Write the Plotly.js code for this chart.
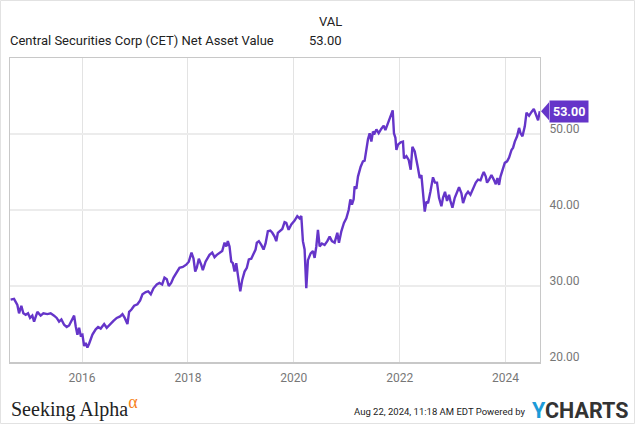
<!DOCTYPE html>
<html>
<head>
<meta charset="utf-8">
<script src="https://cdn.plot.ly/plotly-3.0.1.min.js"></script>
<style>
html,body{margin:0;padding:0;background:#fff;}
#chart{width:635px;height:424px;}
</style>
</head>
<body>
<div id="chart"></div>
<script>
// Time as decimal years, NAV values in USD
var years = [
2014.652,2014.716,2014.779,2014.811,2014.854,2014.892,2014.936,2014.981,2015.019,2015.062,
2015.095,2015.157,2015.219,2015.270,2015.346,2015.408,2015.473,2015.522,2015.567,2015.611,
2015.662,2015.711,2015.756,2015.800,2015.851,2015.881,2015.913,2015.945,2015.975,2016.008,
2016.040,2016.070,2016.102,2016.134,2016.197,2016.259,2016.304,2016.353,2016.418,2016.467,
2016.531,2016.594,2016.656,2016.720,2016.764,2016.807,2016.858,2016.890,2016.934,2016.985,
2017.047,2017.098,2017.142,2017.204,2017.250,2017.299,2017.350,2017.412,2017.463,2017.514,
2017.558,2017.601,2017.639,2017.684,2017.728,2017.779,2017.841,2017.904,2017.968,2018.017,
2018.068,2018.106,2018.138,2018.168,2018.206,2018.251,2018.282,2018.333,2018.376,2018.408,
2018.459,2018.503,2018.546,2018.597,2018.648,2018.692,2018.724,2018.754,2018.786,2018.819,
2018.849,2018.881,2018.913,2018.943,2018.989,2019.026,2019.070,2019.113,2019.151,2019.197,
2019.240,2019.278,2019.302,2019.340,2019.386,2019.429,2019.467,2019.510,2019.556,2019.594,
2019.637,2019.669,2019.699,2019.745,2019.783,2019.826,2019.858,2019.902,2019.953,2020.015,
2020.066,2020.110,2020.142,2020.172,2020.204,2020.236,2020.267,2020.318,2020.361,2020.393,
2020.425,2020.456,2020.488,2020.531,2020.582,2020.633,2020.677,2020.720,2020.771,2020.822,
2020.853,2020.898,2020.947,2020.992,2021.036,2021.068,2021.098,2021.130,2021.149,2021.181,
2021.212,2021.263,2021.306,2021.338,2021.371,2021.401,2021.433,2021.465,2021.495,2021.527,
2021.560,2021.603,2021.654,2021.698,2021.730,2021.779,2021.830,2021.868,2021.892,2021.919,
2021.938,2021.968,2022.019,2022.062,2022.081,2022.127,2022.170,2022.208,2022.240,2022.284,
2022.346,2022.378,2022.410,2022.440,2022.473,2022.505,2022.535,2022.580,2022.629,2022.667,
2022.705,2022.743,2022.788,2022.818,2022.856,2022.894,2022.932,2022.958,2022.996,2023.040,
2023.083,2023.121,2023.166,2023.197,2023.248,2023.291,2023.336,2023.386,2023.437,2023.480,
2023.526,2023.563,2023.588,2023.626,2023.650,2023.688,2023.733,2023.777,2023.815,2023.847,
2023.877,2023.904,2023.941,2023.985,2024.028,2024.066,2024.112,2024.142,2024.174,2024.217,
2024.255,2024.282,2024.319,2024.363,2024.395,2024.444,2024.490,2024.533,2024.571,2024.614,
2024.646
];
var nav = [
28.2,28.3,27.5,26.4,27.4,26.4,26.2,26.4,25.8,26.1,
25.3,26.6,26.1,26.4,26.3,26.4,26.1,25.8,25.3,25.6,
24.9,24.6,24.8,25.4,26.1,24.7,23.6,24.5,23.5,23.6,
22.1,22.5,21.9,22.4,23.6,24.3,24.6,24.4,25.0,24.5,
25.0,25.4,25.8,26.0,26.3,25.8,25.0,26.6,26.9,27.4,
27.6,28.1,28.9,29.2,29.3,28.9,29.7,30.2,30.4,30.2,
31.1,30.9,30.0,30.4,31.1,31.7,32.4,32.5,32.8,33.2,
34.4,33.6,31.9,32.4,33.6,32.8,32.1,33.2,33.7,34.1,
34.4,33.8,34.1,34.3,34.6,35.7,35.2,35.9,35.2,33.2,
33.0,31.9,33.0,31.5,29.3,30.8,31.9,32.4,33.5,33.6,
34.3,34.8,35.7,35.9,35.4,34.8,35.6,37.2,37.3,37.0,
36.5,35.9,37.0,37.3,37.5,38.4,38.3,37.4,38.1,38.6,
39.2,38.9,39.2,35.9,34.8,29.7,33.4,34.3,34.6,33.7,
35.2,37.4,35.2,35.6,35.4,35.9,36.5,35.9,35.7,37.0,
35.7,37.2,38.3,38.9,40.0,41.4,40.7,41.4,43.1,42.8,
44.4,45.7,46.4,46.5,48.2,49.3,50.1,49.0,50.3,50.1,
50.6,50.1,50.7,51.1,50.5,51.4,52.3,53.1,50.1,49.5,
47.9,48.6,48.9,49.0,46.8,47.1,46.6,45.3,48.3,47.7,
45.5,44.2,44.6,42.7,39.8,41.1,40.9,42.4,44.3,43.6,
43.6,41.6,40.5,41.6,42.4,41.2,42.0,41.2,40.3,41.6,
42.4,43.0,42.2,40.9,42.0,42.4,42.0,42.9,43.6,44.0,
43.9,44.6,45.0,44.4,43.6,44.0,44.6,44.0,43.4,44.2,
43.3,44.4,45.2,46.2,46.4,46.9,47.9,48.2,49.0,49.7,
50.8,50.1,49.7,51.0,52.8,52.4,52.9,53.3,52.6,51.8,
53.0
];
var xTicks = [2016, 2018, 2020, 2022, 2024];
var xTickText = ['2016', '2018', '2020', '2022', '2024'];
var yTicks = [20, 30, 40, 50];
var yTickText = ['20.00', '30.00', '40.00', '50.00'];
var seriesName = 'Central Securities Corp (CET) Net Asset Value';
var lastVal = nav[nav.length - 1];
var lastLabel = lastVal.toFixed(2);

var purple = '#6535C9';
var W = 635, H = 424, mL = 10, mR = 95, mT = 58, mB = 62;
var pw = W - mL - mR, ph = H - mT - mB;
function px(x){ return (x - mL) / pw; }
function py(y){ return (H - mB - y) / ph; }

var trace = {
  x: years, y: nav, type: 'scatter', mode: 'lines',
  line: {color: purple, width: 2.4},
  hoverinfo: 'skip', showlegend: false
};

var font = "Roboto, 'Liberation Sans', Arial, sans-serif";
var layout = {
  width: W, height: H,
  margin: {l: mL, r: mR, t: mT, b: mB, pad: 0},
  paper_bgcolor: '#fff', plot_bgcolor: '#fff',
  font: {family: font, color: '#666'},
  showlegend: false,
  xaxis: {
    range: [2014.64, 2024.65], tickvals: xTicks, ticktext: xTickText,
    showgrid: true, gridcolor: '#e3e3e3', gridwidth: 1,
    zeroline: false, showline: true, linecolor: '#c8c8c8', linewidth: 1.5, mirror: true,
    ticks: '', tickfont: {size: 12, color: '#777', family: font}, ticklabelstandoff: 4
  },
  yaxis: {
    side: 'right', range: [20, 60], tickvals: yTicks, ticktext: yTickText,
    showgrid: true, gridcolor: '#ececec', gridwidth: 1.5,
    zeroline: false, showline: true, linecolor: '#c8c8c8', linewidth: 1, mirror: true,
    ticks: '', tickfont: {size: 12, color: '#777', family: font},
    ticklabelstandoff: 6, ticklabelshift: -5
  },
  shapes: [
    {type: 'rect', xref: 'paper', yref: 'paper', x0: px(0.5), x1: px(634.5), y0: py(423.5), y1: py(0.5),
     line: {color: '#e2e2e2', width: 1}, fillcolor: 'rgba(0,0,0,0)', layer: 'below'},
    {type: 'path', xref: 'paper', yref: 'y', xsizemode: 'pixel', ysizemode: 'pixel',
     xanchor: 1, yanchor: lastVal, path: 'M1,0 L9,9 L9,-9 Z',
     fillcolor: purple, line: {width: 0}}
  ],
  annotations: [
    {xref: 'paper', yref: 'paper', x: px(8), y: py(40), xanchor: 'left', yanchor: 'middle',
     text: seriesName, showarrow: false, font: {size: 13, color: '#222', family: font}},
    {xref: 'paper', yref: 'paper', x: px(344), y: py(22), xanchor: 'right', yanchor: 'middle',
     text: 'VAL', showarrow: false, font: {size: 13, color: '#222', family: font}},
    {xref: 'paper', yref: 'paper', x: px(344), y: py(40), xanchor: 'right', yanchor: 'middle',
     text: lastLabel, showarrow: false, font: {size: 13, color: '#222', family: font}},
    {xref: 'paper', yref: 'y', x: 1, y: lastVal, xanchor: 'left', yanchor: 'middle', xshift: 9,
     text: '<b>' + lastLabel + '</b>', showarrow: false, bgcolor: purple, borderpad: 3,
     font: {size: 12.5, color: '#fff', family: font}},
    {xref: 'paper', yref: 'paper', x: px(9), y: py(406), xanchor: 'left', yanchor: 'middle',
     text: 'Seeking Alpha<sup><span style="font-size:18px;color:#F7821B">α</span></sup>', showarrow: false,
     font: {size: 20, color: '#222', family: "'Liberation Serif', 'DejaVu Serif', serif"}},
    {xref: 'paper', yref: 'paper', x: px(527), y: py(411), xanchor: 'right', yanchor: 'middle',
     text: 'Aug 22, 2024, 11:18 AM EDT Powered by', showarrow: false,
     font: {size: 9.5, color: '#222', family: font}},
    {xref: 'paper', yref: 'paper', x: px(530), y: py(410), xanchor: 'left', yanchor: 'middle',
     text: '<b><span style="color:#1C9BD8">Y</span>CHARTS</b>', showarrow: false,
     font: {size: 21.5, color: '#333', family: font}}
  ]
};

Plotly.newPlot('chart', [trace], layout, {staticPlot: true, displayModeBar: false});
</script>
</body>
</html>
